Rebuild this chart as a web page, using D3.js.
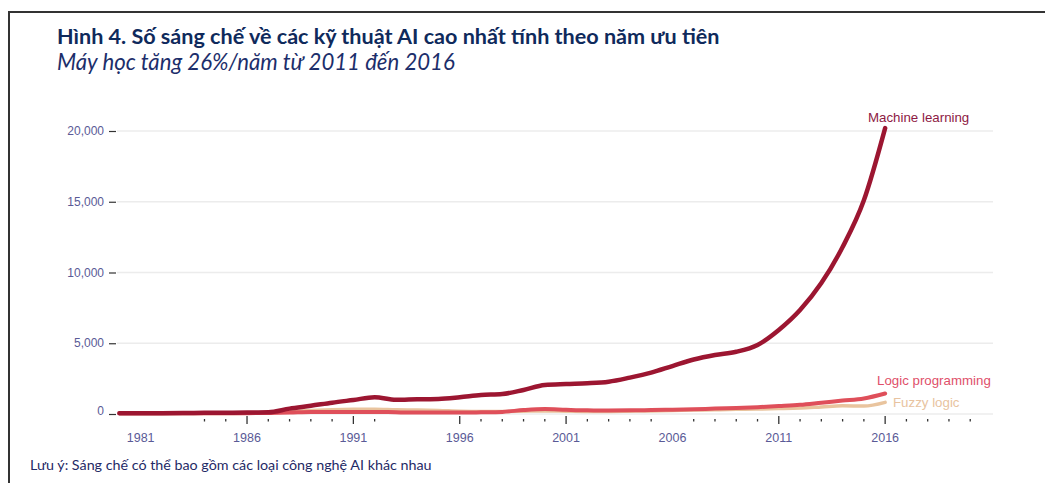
<!DOCTYPE html>
<html><head><meta charset="utf-8">
<script src="https://cdn.jsdelivr.net/npm/d3@7"></script>
<style>html,body{margin:0;padding:0;background:#fff;}svg{display:block;}</style>
</head><body>
<script>
const years = d3.range(1980, 2017);
const machineLearning = [50,50,60,70,80,90,100,120,380,580,800,990,1180,1000,1040,1060,1180,1340,1410,1700,2050,2120,2170,2280,2570,2920,3390,3850,4170,4400,4880,5940,7350,9250,11800,15100,20200];
const logicProgramming = [50,50,50,50,50,50,60,70,100,150,150,150,150,120,100,100,100,120,150,280,350,300,260,250,260,280,300,330,380,420,480,560,650,800,950,1100,1450];
const fuzzyLogic = [30,30,30,30,30,40,50,100,180,250,300,330,340,300,280,250,200,180,180,200,220,200,180,180,200,220,250,280,300,330,350,380,420,500,580,560,820];
const seriesNames = ["Machine learning","Logic programming","Fuzzy logic"];
const yTicks = [0,5000,10000,15000,20000];
const xLabelYears = [1981,1986,1991,1996,2001,2006,2011,2016];
const xMajorTicks = [1986,1991,1996,2001,2011,2016];
const xMinorTicks = [1984,1985,1987,1988,1989,1990,1992,1997,1998,1999,2000,2002,2003,2004,2005,2007,2008,2009,2010,2012,2013,2014,2015,2017,2018,2019,2020];
const titleText = "Hình 4. Số sáng chế về các kỹ thuật AI cao nhất tính theo năm ưu tiên";
const subtitleText = "Máy học tăng 26%/năm từ 2011 đến 2016";
const noteText = "Lưu ý: Sáng chế có thể bao gồm các loại công nghệ AI khác nhau";

const W = 1045, H = 483;
const svg = d3.select("body").append("svg").attr("width", W).attr("height", H);

// frame
svg.append("line").attr("x1",9).attr("x2",W).attr("y1",12).attr("y2",12).attr("stroke","#333").attr("stroke-width",2);
svg.append("line").attr("x1",9).attr("x2",9).attr("y1",11).attr("y2",H).attr("stroke","#333").attr("stroke-width",2);

function fitText(sel, target){
  const w = sel.node().getComputedTextLength();
  const fs = parseFloat(sel.attr("font-size"));
  sel.attr("font-size", fs * target / w);
}

const title = svg.append("text").attr("x",57).attr("y",44).attr("font-family","Lato, sans-serif")
  .attr("font-weight","bold").attr("font-size",18).attr("fill","#0f2a5c").text(titleText);
fitText(title, 663);
const sub = svg.append("text").attr("x",57).attr("y",70).attr("font-family","Lato, sans-serif")
  .attr("font-style","italic").attr("font-size",18).attr("fill","#1c2e6b").text(subtitleText);
fitText(sub, 398);
const note = svg.append("text").attr("x",30).attr("y",470).attr("font-family","Lato, sans-serif")
  .attr("font-size",13).attr("fill","#1f2a66").text(noteText);
fitText(note, 402);

const x = d3.scaleLinear().domain([1980, 2021]).range([119.4, 991.5]);
const y = d3.scaleLinear().domain([0, 20000]).range([414, 131]);

// gridlines
svg.append("g").selectAll("line").data(yTicks).join("line")
  .attr("x1",117).attr("x2",993).attr("y1",d=>y(d)).attr("y2",d=>y(d))
  .attr("stroke","#ececec").attr("stroke-width",1.5);

// y axis labels & tick marks
svg.append("g").selectAll("line").data(yTicks).join("line")
  .attr("x1",109).attr("x2",116).attr("y1",d=>y(d)+0.5).attr("y2",d=>y(d)+0.5)
  .attr("stroke","#333").attr("stroke-width",1.2);
svg.append("g").selectAll("text").data(yTicks).join("text")
  .attr("x",104).attr("y",d=>y(d)+(d===0?1:4)).attr("text-anchor","end")
  .attr("font-family","'Liberation Sans', Arial, sans-serif").attr("font-size",12)
  .attr("fill","#5a5a96").text(d=>d3.format(",")(d));

// x ticks
svg.append("g").selectAll("line").data(xMajorTicks).join("line")
  .attr("x1",d=>x(d)).attr("x2",d=>x(d)).attr("y1",416).attr("y2",424)
  .attr("stroke","#333").attr("stroke-width",1.3);
svg.append("g").selectAll("line").data(xMinorTicks).join("line")
  .attr("x1",d=>x(d)).attr("x2",d=>x(d)).attr("y1",419).attr("y2",421.5)
  .attr("stroke","#333").attr("stroke-width",1.3);
svg.append("g").selectAll("text").data(xLabelYears).join("text")
  .attr("x",d=>x(d)).attr("y",442).attr("text-anchor","middle")
  .attr("font-family","'Liberation Sans', Arial, sans-serif").attr("font-size",12.5)
  .attr("fill","#5a5a96").text(d=>d);

// lines
const line = d3.line().x((d,i)=>x(years[i])).y(d=>y(d)).curve(d3.curveMonotoneX);
const series = [
  {name: seriesNames[2], values: fuzzyLogic, color: "#e9c49e", w: 3.5},
  {name: seriesNames[1], values: logicProgramming, color: "#df4f5a", w: 4},
  {name: seriesNames[0], values: machineLearning, color: "#9c1631", w: 4.5}
];
svg.append("g").selectAll("path").data(series).join("path")
  .attr("d", d=>line(d.values)).attr("fill","none")
  .attr("stroke", d=>d.color).attr("stroke-width", d=>d.w).attr("stroke-linejoin","round").attr("stroke-linecap","round");

// labels
const lab = [
  {t: seriesNames[0], x: 868, y: 122, c: "#8e1a44"},
  {t: seriesNames[1], x: 877, y: 385, c: "#e0506a"},
  {t: seriesNames[2], x: 893, y: 407, c: "#e8c3a0"}
];
svg.append("g").selectAll("text").data(lab).join("text")
  .attr("x",d=>d.x).attr("y",d=>d.y).attr("font-family","'Liberation Sans', Arial, sans-serif")
  .attr("font-size",13.3).attr("fill",d=>d.c).text(d=>d.t);
</script>
</body></html>
